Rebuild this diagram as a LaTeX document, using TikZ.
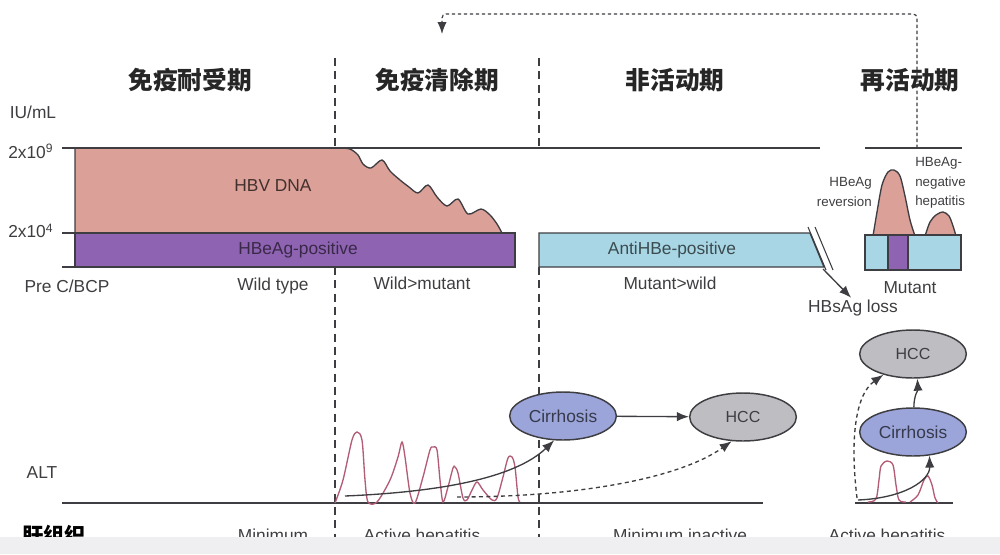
\documentclass[tikz,border=0pt]{standalone}
\usepackage{fontspec}
\setmainfont{Liberation Sans}
\newfontfamily\cjk{Noto Sans CJK SC}
\usetikzlibrary{shapes.geometric,arrows.meta}
\definecolor{dnapink}{RGB}{219,160,152}
\definecolor{eagpurple}{RGB}{142,100,178}
\definecolor{antiblue}{RGB}{168,214,228}
\definecolor{cirblue}{RGB}{155,165,217}
\definecolor{hccgray}{RGB}{190,190,194}
\definecolor{altred}{RGB}{178,92,118}
\definecolor{ink}{RGB}{62,62,66}
\definecolor{band}{RGB}{239,239,241}
\begin{document}
\begin{tikzpicture}[x=0.75pt,y=-0.75pt,>={Latex[length=9pt,width=7pt]},
  line/.style={draw=ink,line width=1.5pt},
  phase/.style={draw=ink,line width=1.2pt,dash pattern=on 6pt off 4pt},
  lbl/.style={text=ink,font=\fontsize{13}{15}\selectfont,inner sep=0pt},
  small/.style={text=ink,font=\fontsize{10}{14.5}\selectfont,inner sep=0pt},
  head/.style={text=black!85,font=\cjk\bfseries\fontsize{18.5}{20}\selectfont,inner sep=0pt},
  ell/.style={ellipse,draw=ink,line width=1.1pt,minimum width=80pt,minimum height=36pt,inner sep=0pt},
  alt/.style={draw=altred,line width=1pt},
  arr/.style={draw=ink,line width=1pt,->}]
\useasboundingbox (0,0) rectangle (1000,554);

% phase headings
\node[head] (tol) at (190,80) {免疫耐受期};
\node[head] (clr) at (437,80) {免疫清除期};
\node[head] (ina) at (675,80) {非活动期};
\node[head] (rea) at (910,80) {再活动期};

% phase borders
\path[phase] (335,58) -- (335,148);
\path[phase] (335,267) -- (335,537);
\path[phase] (539,58) -- (539,148);
\path[phase] (539,267) -- (539,537);

% reactivation loop
\coordinate (loopR) at (917,148);
\coordinate (loopL) at (442,34);
\path[draw=ink,line width=0.9pt,dash pattern=on 2.5pt off 2pt,rounded corners=3pt,->] (loopR) -- (917,14) -- (442,14) -- (loopL);

% axis
\node[lbl] (unit) at (33,112) {IU/mL};
\node[lbl,anchor=west] (hi) at (8,151) {2x10\textsuperscript{9}};
\node[lbl,anchor=west] (lo) at (8,231) {2x10\textsuperscript{4}};

% HBV DNA
\path[fill=dnapink,draw=ink,line width=1pt] (75,148) -- (340,148) -- plot[smooth] coordinates {(340,148) (350,149) (358,155) (363,164) (371,168) (382,160) (390,171) (400,180) (409,187) (418,193) (428,185) (437,197) (447,206) (458,199) (468,214) (481,209) (490,215) (497,224) (502,233)} -- (75,233) -- cycle;
\path[line] (62,148) -- (820,148);
\path[line] (865,148) -- (962,148);
\path[line] (62,233) -- (75,233);
\path[line] (62,267) -- (75,267);
\node[lbl,text=black!70!dnapink] (dna) at (273,186) {HBV DNA};

% HBeAg / antiHBe
\path[fill=eagpurple,draw=ink,line width=1pt] (75,233) rectangle (515,267);
\node[lbl,text=black!60!eagpurple] (pos) at (298,250) {HBeAg-positive};
\path[fill=antiblue,draw=ink,line width=1pt] (539,233) -- (810,233) -- (824,267) -- (539,267) -- cycle;
\node[lbl,text=black!65!antiblue] (anti) at (672,250) {AntiHBe-positive};
\path[draw=ink,line width=0.8pt] (808,227) -- (826,270);
\path[draw=ink,line width=0.8pt] (815,227) -- (833,270);
\coordinate (slash) at (823,269);
\node[lbl] (loss) at (853,308) {HBsAg loss};
\path[arr,shorten >=2pt] (slash) -- (loss.north);

% reactivation box
\path[fill=dnapink,draw=ink,line width=1pt] plot[smooth] coordinates {(873,236) (877,212) (882,185) (888,172) (894,170) (900,176) (905,196) (910,220) (915,236)};
\path[fill=dnapink,draw=ink,line width=1pt] plot[smooth] coordinates {(925,236) (930,222) (936,215) (943,212) (949,216) (953,226) (956,236)};
\path[fill=antiblue,draw=ink,line width=1pt] (865,235) rectangle (961,270);
\path[fill=eagpurple,draw=ink,line width=1pt] (888,235) rectangle (908,270);
\node[small,anchor=east,align=right] (rev) at (872,192) {HBeAg\\reversion};
\node[small,anchor=west,align=left] (neg) at (915,183) {HBeAg-\\negative\\hepatitis};

% virus type
\node[lbl] (pre) at (67,286) {Pre C/BCP};
\node[lbl] (wild) at (273,286) {Wild type};
\node[lbl] (wm) at (422,283) {Wild>mutant};
\node[lbl] (mw) at (670,283) {Mutant>wild};
\node[lbl] (mut) at (910,288) {Mutant};

% ALT
\node[lbl] (alt) at (42,473) {ALT};
\path[line] (62,503) -- (763,503);
\path[line] (855,503) -- (953,503);
\path[alt] plot[smooth] coordinates {(335,503) (343,480) (352,440) (357,432) (362,440) (365,480) (368,502) (377,502) (390,480) (398,457) (402,442) (405,457) (410,493) (415,503) (423,477) (430,450) (433,447) (437,450) (440,480) (443,502) (448,487) (453,468) (455,467) (458,473) (463,498) (467,500) (472,490) (477,482) (483,490) (492,500) (497,498) (503,477) (508,458) (512,457) (515,467) (518,497) (520,502)};
\path[alt] plot[smooth] coordinates {(868,502) (876,499) (879,480) (881,466) (887,461) (893,465) (896,485) (899,500) (906,502)};
\path[alt] plot[smooth] coordinates {(910,502) (918,495) (924,480) (928,476) (932,485) (935,498) (938,503)};

% outcomes
\node[ell,fill=cirblue,text=black!65!cirblue,font=\fontsize{13}{15}\selectfont] (cirA) at (563,416) {Cirrhosis};
\node[ell,fill=hccgray,text=ink,font=\fontsize{12}{14}\selectfont] (hccA) at (743,417) {HCC};
\node[ell,fill=hccgray,text=ink,font=\fontsize{12}{14}\selectfont] (hccB) at (913,354) {HCC};
\node[ell,fill=cirblue,text=black!65!cirblue,font=\fontsize{13}{15}\selectfont] (cirB) at (913,432) {Cirrhosis};

\path[arr] (cirA) -- (hccA);
\coordinate (altA) at (345,496);
\path[arr] (altA) .. controls (440,492) and (515,478) .. (cirA.-110);
\coordinate (altB) at (457,497);
\path[arr,dash pattern=on 3pt off 2.5pt] (altB) .. controls (580,497) and (680,478) .. (hccA.-115);
\coordinate (altC) at (857,498);
\path[arr,dash pattern=on 3pt off 2.5pt] (altC) .. controls (850,440) and (855,395) .. (hccB.-145);
\coordinate (altD) at (858,500);
\path[arr] (altD) .. controls (905,498) and (930,480) .. (cirB.-55);
\path[arr] (cirB.88) .. controls (914,395) and (918,390) .. (hccB.-80);

% histology (cut off by the bottom strip)
\node[text=black,font=\cjk\bfseries\fontsize{16}{18}\selectfont,inner sep=0pt,anchor=base west] (liver) at (22,543) {肝组织};
\node[lbl,anchor=base] (h1) at (273,541) {Minimum};
\node[lbl,anchor=base] (h2) at (422,541) {Active hepatitis};
\node[lbl,anchor=base] (h3) at (680,541) {Minimum inactive};
\node[lbl,anchor=base] (h4) at (887,541) {Active hepatitis};
\path[fill=band] (0,537) rectangle (1000,554);
\end{tikzpicture}
\end{document}
